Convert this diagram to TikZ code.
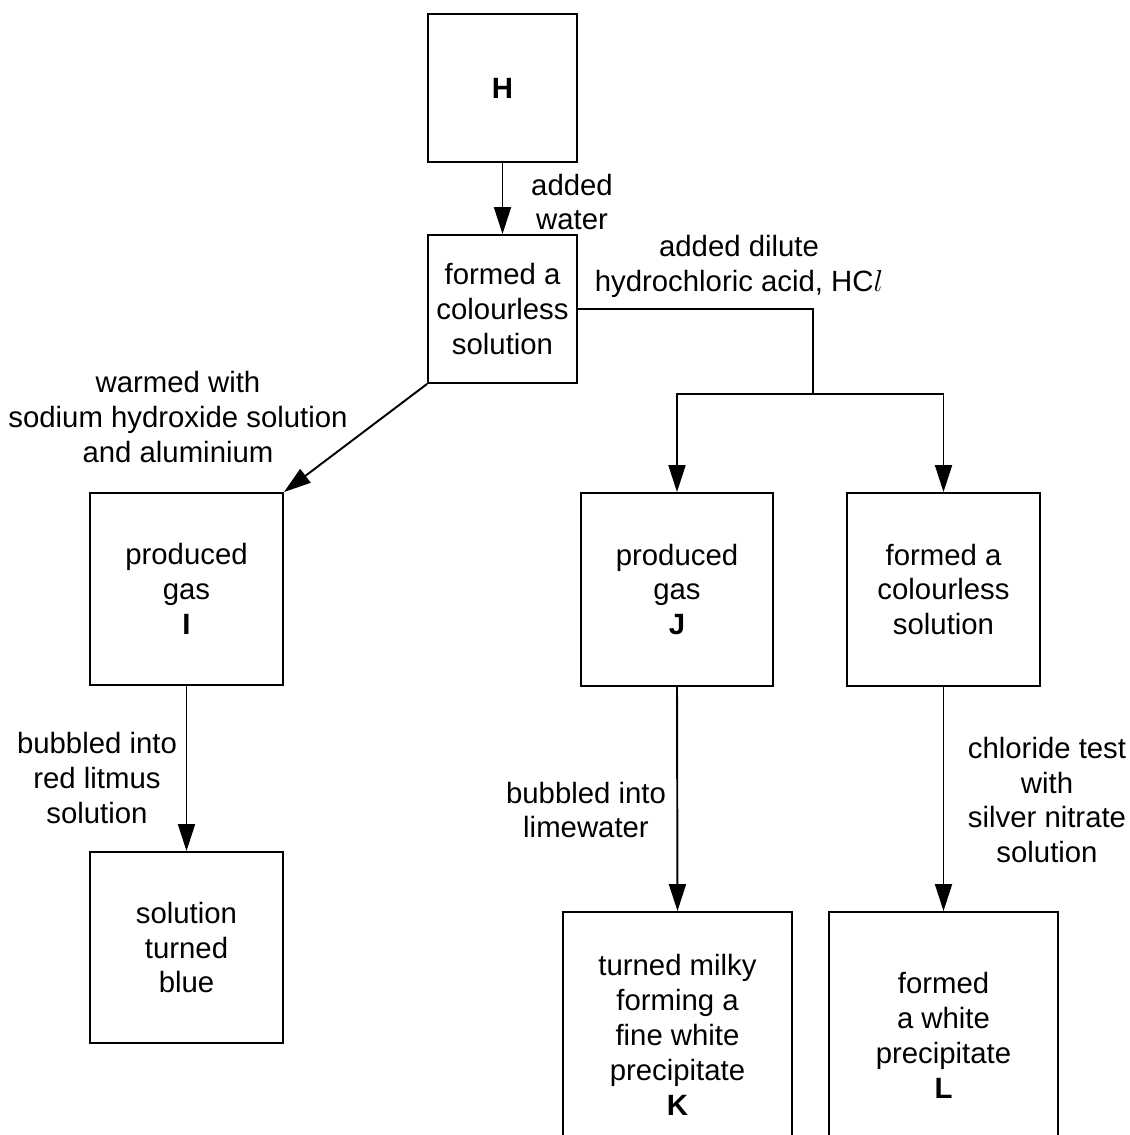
\documentclass[tikz,border=0pt]{standalone}
\usepackage{fontspec}
\setmainfont{Liberation Sans}
\usetikzlibrary{arrows.meta}

\begin{document}
\begin{tikzpicture}[x=0.02cm, y=-0.02cm,
	every node/.style={font=\fontsize{16.7}{19.9}\selectfont, align=center},
	box/.style={draw, line width=1.1pt, inner sep=0pt},
	flow/.style={line width=1.1pt, -{Triangle[length=5.4mm, width=3.4mm]}},
	link/.style={line width=1.1pt}]
		\useasboundingbox (0, 0) rectangle (1129, 1135);
		\clip (0, 0) rectangle (1129, 1135);
		
		% Boxes
		\node[box, minimum width=2.98cm, minimum height=2.96cm] (H) at (502.5, 88) {\textbf{H}};
		\node[box, minimum width=2.98cm, minimum height=2.96cm] (sol) at (502.5, 309) {formed a\\colourless\\solution};
		\node[box, minimum width=3.86cm, minimum height=3.84cm] (gasI) at (186.5, 589) {produced\\gas\\\textbf{I}};
		\node[box, minimum width=3.86cm, minimum height=3.82cm] (blue) at (186.5, 947.5) {solution\\turned\\blue};
		\node[box, minimum width=3.84cm, minimum height=3.86cm] (gasJ) at (677, 589.5) {produced\\gas\\\textbf{J}};
		\node[box, minimum width=3.86cm, minimum height=3.86cm] (solB) at (943.5, 589.5) {formed a\\colourless\\solution};
		\node[box, minimum width=4.58cm, minimum height=4.92cm] (K) at (677.5, 1035) {turned milky\\forming a\\fine white\\precipitate\\\textbf{K}};
		\node[box, minimum width=4.58cm, minimum height=4.92cm] (L) at (943.5, 1035) {formed\\a white\\precipitate\\\textbf{L}};
		
		% Arrows
		\coordinate (fork) at (813, 394);
		\draw[flow] (H.south) -- (sol.north);
		\draw[link] (sol.east) -| (fork);
		\draw[flow] (fork) -| (gasJ.north);
		\draw[flow] (fork) -| (solB.north);
		\draw[flow] (sol.south west) -- (gasI.north east);
		\draw[flow] (gasI.south) -- (blue.north);
		\draw[flow] (gasJ.south) -- (K.north);
		\draw[flow] (solB.south) -- (L.north);
		
		% Labels
		\node (water) at (572, 202) {added\\water};
		\node (acid) at (739, 266) {added dilute\\hydrochloric acid, HC$l$};
		\node (warm) at (178, 417) {warmed with\\sodium hydroxide solution\\and aluminium};
		\node (litmus) at (97, 778) {bubbled into\\red litmus\\solution};
		\node (lime) at (586, 810) {bubbled into\\limewater};
		\node (chloride) at (1047, 800) {chloride test\\with\\silver nitrate\\solution};
	\end{tikzpicture}
\end{document}
